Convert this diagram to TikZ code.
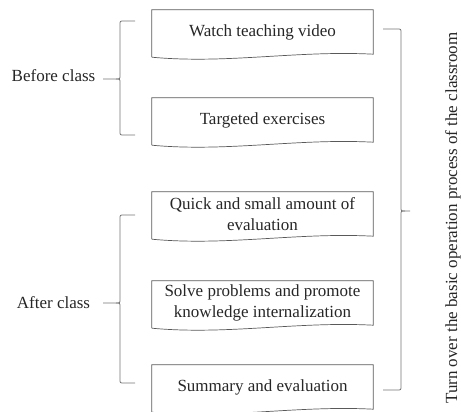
\documentclass[tikz,border=0pt]{standalone}
\usepackage{fontspec}
\setmainfont{Liberation Serif}
\usetikzlibrary{calc}
\newcommand{\leftbrc}[6]{% #1 end x, #2 vertical x, #3 tip x, #4 top y, #5 mid y, #6 bottom y
  \draw[braceline] (#1,#4) -- (#2+4,#4) .. controls (#2,#4) .. (#2,#4-4) -- (#2,#5+4)
    .. controls (#2,#5) .. (#2-4,#5) -- (#3,#5);
  \draw[braceline] (#2-4,#5) .. controls (#2,#5) .. (#2,#5-4) -- (#2,#6+4)
    .. controls (#2,#6) .. (#2+4,#6) -- (#1,#6);}
\newcommand{\rightbrc}[6]{%
  \draw[braceline] (#1,#4) -- (#2-4,#4) .. controls (#2,#4) .. (#2,#4-4) -- (#2,#5+4)
    .. controls (#2,#5) .. (#2+4,#5) -- (#3,#5);
  \draw[braceline] (#2+4,#5) .. controls (#2,#5) .. (#2,#5-4) -- (#2,#6+4)
    .. controls (#2,#6) .. (#2-4,#6) -- (#1,#6);}
\begin{document}
\begin{tikzpicture}[x=1pt,y=1pt,
  every node/.style={font=\fontsize{17}{21}\selectfont, text=black!85},
  docbox/.style={minimum width=221pt, minimum height=44pt, inner sep=0pt, align=center},
  boxline/.style={draw=black!65, line width=0.7pt},
  braceline/.style={draw=black!55, line width=0.8pt}]
\useasboundingbox (0,0) rectangle (461,412);
\node[docbox] (b1) at (262.5,380) {Watch teaching video};
\node[docbox] (b2) at (262.5,292) {Targeted exercises};
\node[docbox] (b3) at (262.5,198) {Quick and small amount of\\evaluation};
\node[docbox] (b4) at (262.5,109) {Solve problems and promote\\knowledge internalization};
\node[docbox] (b5) at (262.5,25) {Summary and evaluation};
\foreach \n in {b1,b2,b3,b4,b5}
  \draw[boxline] ($(\n.south west)+(0,-3)$) -- (\n.north west) -- (\n.north east) -- (\n.south east)
    .. controls ($(\n.south east)+(-76,4)$) and ($(\n.south west)+(75,-10)$) .. ($(\n.south west)+(0,-3)$);
\node (before) at (53.5,336) {Before class};
\node (after) at (53.5,109) {After class};
\node[rotate=90] (turn) at (453,194) {Turn over the basic operation process of the classroom};
\leftbrc{135}{120}{103}{391}{333}{277}
\leftbrc{135}{120}{103}{197}{109}{29}
\rightbrc{383}{401}{410}{383}{201}{22}
\end{tikzpicture}
\end{document}
